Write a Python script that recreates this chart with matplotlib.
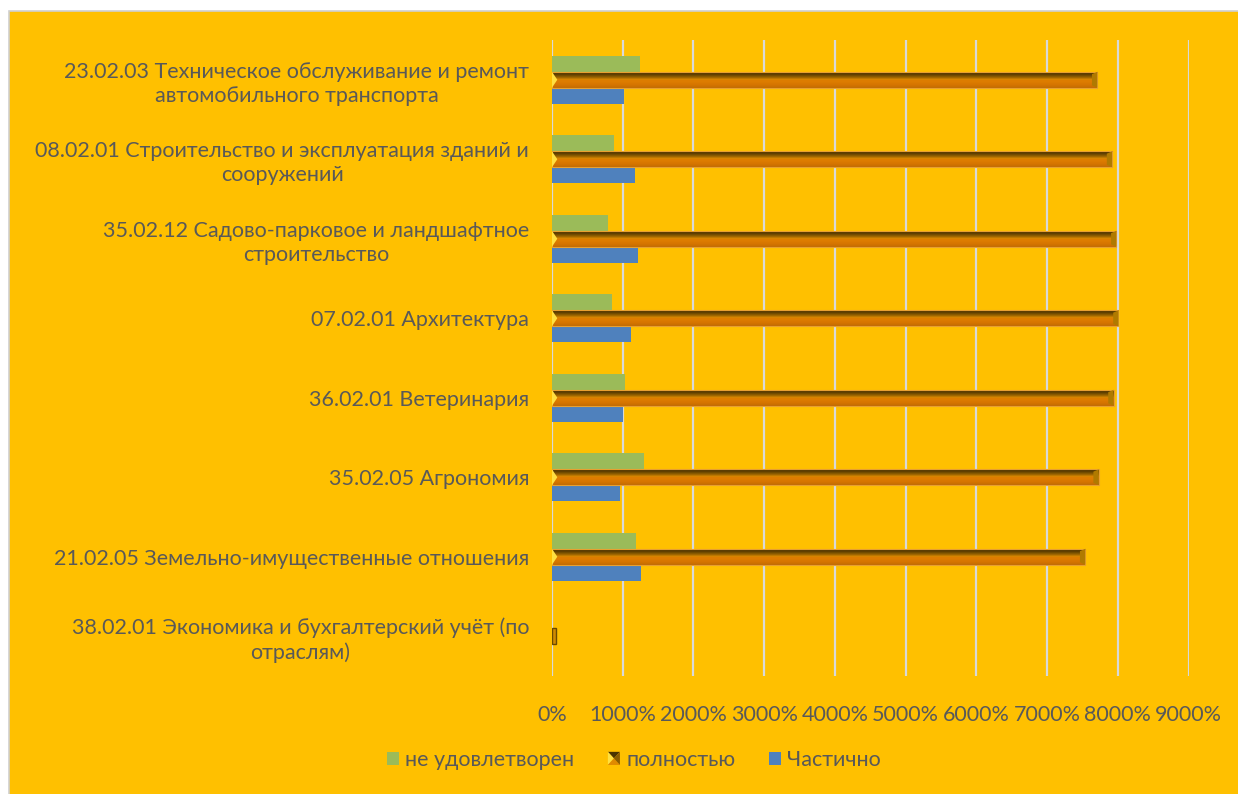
import matplotlib
matplotlib.use("Agg")
import matplotlib.pyplot as plt
import numpy as np
from matplotlib.patches import Rectangle, Polygon
from matplotlib.legend_handler import HandlerBase

# ---------------- data ----------------
categories = [
    "23.02.03 Техническое обслуживание и ремонт\nавтомобильного транспорта",
    "08.02.01 Строительство и эксплуатация зданий и\nсооружений",
    "35.02.12 Садово-парковое и ландшафтное\nстроительство",
    "07.02.01 Архитектура",
    "36.02.01 Ветеринария",
    "35.02.05 Агрономия",
    "21.02.05 Земельно-имущественные отношения",
    "38.02.01 Экономика и бухгалтерский учёт (по\nотраслям)",
]
ne_udovletvoren = [12.5, 8.7, 7.9, 8.5, 10.3, 13.0, 11.9, 0.0]
polnostyu = [77.1, 79.2, 79.8, 80.1, 79.4, 77.3, 75.4, 0.0]
chastichno = [10.2, 11.8, 12.2, 11.2, 10.1, 9.6, 12.6, 0.0]
series_names = ["не удовлетворен", "полностью", "Частично"]
x_ticks = [0, 10, 20, 30, 40, 50, 60, 70, 80, 90]
x_tick_labels = ["0%", "1000%", "2000%", "3000%", "4000%", "5000%",
                 "6000%", "7000%", "8000%", "9000%"]

# ---------------- style ----------------
BG = "#FFC000"
GREEN = "#9BBB59"
BLUE = "#4F81BD"
TEXT = "#595959"
GRID = "#D9D9D9"
FONT = ["Lato", "DejaVu Sans"]
plt.rcParams["font.family"] = FONT
FS = 15.5

W, H = 1238, 794
fig = plt.figure(figsize=(W / 100, H / 100), dpi=100, facecolor="white")
# chart-area background
fig.patches.append(Rectangle((9 / W, -0.05), 1.1, 1 - 11 / H + 0.05,
                             transform=fig.transFigure, facecolor=BG,
                             edgecolor="#D0D0D0", linewidth=1.2, zorder=-10))

ax = fig.add_axes([552 / W, 1 - 676 / H, (1188.5 - 552) / W, (676 - 40) / H])
ax.set_zorder(5)
ax.patch.set_alpha(0)

n = len(categories)
y = np.arange(n)
h = 0.2

ax.barh(y - h, ne_udovletvoren, height=h, color=GREEN, zorder=3)
ax.barh(y + h, chastichno, height=h, color=BLUE, zorder=3)

# bevelled orange bars
grad = np.array([
    [0.30, 0.20, 0.00], [0.33, 0.22, 0.00], [0.38, 0.25, 0.00], [0.45, 0.30, 0.00],
    [0.53, 0.35, 0.00], [0.62, 0.40, 0.00], [0.74, 0.47, 0.00], [0.84, 0.52, 0.00],
    [0.87, 0.49, 0.00], [0.87, 0.49, 0.00], [0.86, 0.48, 0.00], [0.85, 0.47, 0.00],
    [0.84, 0.46, 0.00], [0.82, 0.45, 0.00], [0.80, 0.44, 0.00], [0.76, 0.42, 0.02],
])[:, None, :]
bev = 0.75
for yi, v in zip(y, polnostyu):
    top, bot = yi - h / 2, yi + h / 2
    if v > 0:
        ax.imshow(grad, extent=(0, v, bot, top), origin="upper",
                  aspect="auto", interpolation="bilinear", zorder=3)
        ax.add_patch(Rectangle((0, top), v, h, fill=False,
                               edgecolor="#E8A030", linewidth=0.8, zorder=4))
        ax.add_patch(Polygon([(0, top), (bev, yi), (0, bot)], closed=True,
                             facecolor="#FFE040", edgecolor="none", zorder=4))
        ax.add_patch(Polygon([(v, top), (v, bot), (v - bev, bot - h * 0.15),
                              (v - bev, top + h * 0.15)], closed=True,
                             facecolor="#B07A00", edgecolor="none", zorder=4))
    else:
        ax.add_patch(Rectangle((0, top), bev * 0.7, h, facecolor="#D08A00",
                               edgecolor="#6B4A00", linewidth=1.0, zorder=4))

ax.set_ylim(n - 0.5, -0.5)
ax.set_xlim(0, 90)
ax.set_xticks(x_ticks)
ax.set_xticklabels(x_tick_labels)
ax.set_yticks(y)
ax.set_yticklabels(categories, multialignment="center", linespacing=1.25)
ax.tick_params(axis="both", length=0, colors=TEXT, labelsize=FS)
ax.tick_params(axis="x", pad=21)
ax.tick_params(axis="y", pad=16.5)
ax.xaxis.grid(True, color=GRID, linewidth=1.6, zorder=0)
ax.set_axisbelow(True)
for s in ax.spines.values():
    s.set_visible(False)


# legend
class BevelHandler(HandlerBase):
    def create_artists(self, legend, orig_handle, xdescent, ydescent,
                       width, height, fontsize, trans):
        x0, y0 = -xdescent, -ydescent
        cx, cy = x0 + width / 2, y0 + height / 2
        x1, y1 = x0 + width, y0 + height
        c = (cx, cy)
        tris = [
            ([(x0, y1), (x1, y1), c], "#4A3300"),
            ([(x0, y0), (x0, y1), c], "#FFE040"),
            ([(x0, y0), (x1, y0), c], "#E08A00"),
            ([(x1, y0), (x1, y1), c], "#8A5C00"),
        ]
        arts = []
        for pts, col in tris:
            p = Polygon(pts, closed=True, facecolor=col, edgecolor="none",
                        transform=trans)
            arts.append(p)
        return arts


h_green = Rectangle((0, 0), 1, 1, facecolor=GREEN)
h_orange = Rectangle((0, 0), 1, 1, facecolor="#E08A00")
h_blue = Rectangle((0, 0), 1, 1, facecolor=BLUE)
leg = fig.legend([h_green, h_orange, h_blue], series_names,
                 loc="center", bbox_to_anchor=(634 / W, 1 - 760 / H),
                 ncol=3, frameon=False, fontsize=FS, handlelength=0.56,
                 handleheight=0.56, handletextpad=0.3, columnspacing=1.55,
                 handler_map={h_orange: BevelHandler()})
for t in leg.get_texts():
    t.set_color(TEXT)

fig.savefig("out.png", dpi=100, facecolor="white")
